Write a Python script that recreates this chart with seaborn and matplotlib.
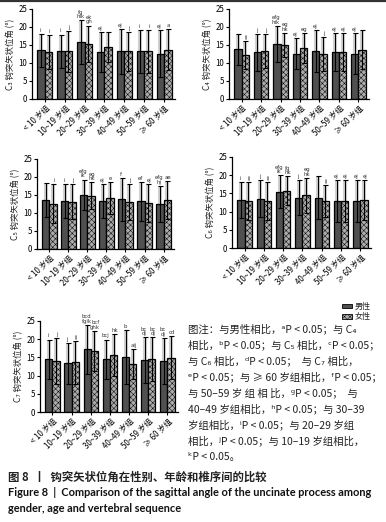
import numpy as np
import pandas as pd
import matplotlib
matplotlib.use('Agg')
import matplotlib.pyplot as plt
import seaborn as sns
from matplotlib.patches import Patch
from matplotlib.lines import Line2D

sns.set_theme(style='ticks')
plt.rcParams['font.family'] = ['Noto Sans CJK SC', 'DejaVu Sans']
plt.rcParams['hatch.linewidth'] = 0.35
plt.rcParams['axes.unicode_minus'] = False

# ---------------- data ----------------
groups = ['< 10 岁组', '10~19 岁组', '20~29 岁组', '30~39 岁组',
          '40~49 岁组', '50~59 岁组', '≥ 60 岁组']
sexes = ['男性', '女性']
vertebrae = ['C₃', 'C₄', 'C₅', 'C₆', 'C₇']

c3_male_mean = [13.5, 13.2, 15.8, 13.0, 13.2, 13.2, 12.6]
c3_female_mean = [13.0, 13.2, 15.4, 14.4, 13.2, 13.2, 13.7]
c3_male_sd = [4.6, 4.7, 6.1, 5.6, 6.2, 5.9, 6.5]
c3_female_sd = [4.8, 5.6, 5.0, 4.2, 5.3, 5.9, 5.7]
c3_male_sig = ['i', 'i', 'fg\nhik', 'ej', 'ej', 'i', 'ej']
c3_female_sig = ['i', 'j', 'ek\ngh', '', 'j', 'i', 'a']

c4_male_mean = [13.8, 13.0, 15.3, 12.6, 13.4, 13.0, 12.6]
c4_female_mean = [12.3, 13.4, 15.0, 14.2, 12.6, 13.0, 13.7]
c4_male_sd = [4.3, 5.1, 5.0, 4.3, 5.8, 5.3, 5.7]
c4_female_sd = [3.9, 4.7, 3.4, 4.1, 4.7, 5.3, 5.5]
c4_male_sig = ['', 'j', 'efg\nhik', 'ej', 'ej', 'ej', 'ej']
c4_female_sig = ['ij', 'j', 'eg\nhk', 'eg', 'j', 'ej', '']

c5_male_mean = [13.6, 13.3, 15.1, 13.3, 13.8, 13.3, 12.5]
c5_female_mean = [12.6, 13.1, 14.8, 14.2, 13.0, 12.8, 13.6]
c5_male_sd = [4.6, 4.7, 4.2, 4.7, 6.0, 5.4, 5.0]
c5_female_sd = [5.4, 4.9, 3.7, 4.5, 5.0, 5.2, 5.2]
c5_male_sig = ['', 'i', 'efg\nik', 'ej', 'f', 'ef', 'efg\nhj']
c5_female_sig = ['i', 'j', 'eg\nhk', 'e', 'j', 'ej', 'ae']

c6_male_mean = [13.2, 13.5, 15.5, 13.8, 13.8, 12.9, 12.9]
c6_female_mean = [12.9, 13.0, 15.7, 14.5, 12.9, 12.9, 13.2]
c6_male_sd = [5.0, 5.1, 4.5, 4.8, 5.9, 5.7, 5.7]
c6_female_sd = [5.3, 5.2, 4.0, 4.8, 4.4, 5.7, 5.4]
c6_male_sig = ['i', 'j', 'efg\nik', 'j', '', 'ej', 'ej']
c6_female_sig = ['ij', 'ij', 'fg\nhk', 'eg\nhk', 'ij', 'ej', 'ej']

c7_male_mean = [14.5, 13.4, 17.2, 14.5, 15.2, 14.3, 14.0]
c7_female_mean = [14.0, 13.6, 16.8, 15.6, 13.2, 14.5, 14.9]
c7_male_sd = [5.4, 5.6, 6.8, 5.4, 7.4, 6.3, 6.4]
c7_female_sd = [6.2, 5.9, 5.5, 5.7, 4.1, 6.1, 5.9]
c7_male_sig = ['i', 'j', 'bcd\nfgik', 'bcj', 'b', 'bc\ndj', 'bc\ndj']
c7_female_sig = ['j', 'ij', 'bcf\nghk', 'hk', 'aij', 'bc\ndj', 'cd']

note_lines = [
    '图注：与男性相比，ᵃP < 0.05；与 C₄',
    '相比，ᵇP < 0.05；与 C₅ 相比，ᶜP < 0.05；',
    '与 C₆ 相比，ᵈP < 0.05；  与 C₇ 相比，',
    'ᵉP < 0.05；与 ≥ 60 岁组相比，ᶠP < 0.05；',
    '与 50–59 岁 组 相 比，ᵍP < 0.05；  与',
    '40–49 岁组相比，ʰP < 0.05；与 30–39',
    '岁组相比，ⁱP < 0.05；与 20–29 岁组',
    '相比，ʲP < 0.05；与 10–19 岁组相比，',
    'ᵏP < 0.05。',
]
caption_cn = '图 8  丨  钩突矢状位角在性别、年龄和椎序间的比较'
caption_en1 = 'Figure 8  |  Comparison of the sagittal angle of the uncinate process among'
caption_en2 = 'gender, age and vertebral sequence'

panels = [
    (c3_male_mean, c3_female_mean, c3_male_sd, c3_female_sd, c3_male_sig, c3_female_sig),
    (c4_male_mean, c4_female_mean, c4_male_sd, c4_female_sd, c4_male_sig, c4_female_sig),
    (c5_male_mean, c5_female_mean, c5_male_sd, c5_female_sd, c5_male_sig, c5_female_sig),
    (c6_male_mean, c6_female_mean, c6_male_sd, c6_female_sd, c6_male_sig, c6_female_sig),
    (c7_male_mean, c7_female_mean, c7_male_sd, c7_female_sd, c7_male_sig, c7_female_sig),
]

# ---------------- layout ----------------
W, H = 386, 522
fig = plt.figure(figsize=(W / 100, H / 100), dpi=100)
fig.patch.set_facecolor('white')

panel_px = [(32, 175, 9, 99), (229, 369, 9, 99), (37, 174, 159, 249),
            (232, 371, 157, 248), (40, 178, 321, 412)]

male_color = '#505050'
female_color = '#acacac'


def px_axes(l, r, t, b):
    return fig.add_axes([l / W, 1 - b / H, (r - l) / W, (b - t) / H])


for i, (mm, fm, ms, fs, msig, fsig) in enumerate(panels):
    ax = px_axes(*panel_px[i])
    df = pd.DataFrame({
        'group': groups * 2,
        'sex': [sexes[0]] * len(groups) + [sexes[1]] * len(groups),
        'angle': mm + fm,
    })
    sns.barplot(data=df, x='group', y='angle', hue='sex', order=groups,
                hue_order=sexes, palette=[male_color, female_color],
                width=0.75, errorbar=None, edgecolor='black', linewidth=0.9,
                saturation=1, legend=False, ax=ax, zorder=2)
    bar_conts = list(ax.containers)
    for j, cont in enumerate(bar_conts):
        means = mm if j == 0 else fm
        sds = ms if j == 0 else fs
        sigs = msig if j == 0 else fsig
        dx = -0.6 if j == 0 else 0.6
        for k, bar in enumerate(cont.patches):
            if j == 1:
                bar.set_hatch('xxxxxx')
            x = bar.get_x() + bar.get_width() / 2
            m, s = means[k], sds[k]
            ax.plot([x, x], [m, m + s], color='#d2d2d2', lw=3.0, zorder=1,
                    solid_capstyle='butt')
            ax.errorbar(x, m, yerr=s, color='black', lw=0.8, capsize=1.8,
                        capthick=0.8, zorder=3)
            if sigs[k]:
                ax.annotate(sigs[k], (x, m + s), xytext=(dx, 0.8),
                            textcoords='offset points', ha='center',
                            va='bottom', fontsize=3.9, color='#333333',
                            annotation_clip=False, linespacing=0.85,
                            family=['DejaVu Sans'])
    ax.set_ylim(0, 25)
    ax.set_yticks(range(0, 26, 5))
    ax.set_xlim(-0.65, 6.55)
    sns.despine(ax=ax)
    for sp in ('left', 'bottom'):
        ax.spines[sp].set_linewidth(0.9)
        ax.spines[sp].set_color('black')
    ax.tick_params(axis='both', labelsize=5.7, length=2.5, width=0.8, pad=1,
                   colors='black')
    ax.set_xlabel('')
    ax.set_ylabel(f'{vertebrae[i]} 钩突矢状位角 (°)', fontsize=6, labelpad=2,
                  color='#222222')
    for lab in ax.get_xticklabels():
        lab.set_rotation(45)
        lab.set_ha('right')
        lab.set_rotation_mode('anchor')

# legend
handles = [Patch(facecolor=male_color, edgecolor='black', linewidth=0.6),
           Patch(facecolor=female_color, edgecolor='black', linewidth=0.6,
                 hatch='xxxxxx')]
fig.legend(handles, sexes, loc='upper left',
           bbox_to_anchor=(342 / W, 1 - 302 / H), frameon=False, fontsize=5.8,
           handlelength=1.3, handleheight=0.45, labelspacing=0.15,
           handletextpad=0.3, borderaxespad=0, borderpad=0)

# note
for n, line in enumerate(note_lines):
    fig.text(188 / W, 1 - (329 + 16 * n) / H, line, fontsize=7.5,
             va='center', ha='left', color='#222222')

# captions
fig.text(8 / W, 1 - 477 / H, caption_cn, fontsize=8.2, fontweight='bold',
         va='center', ha='left', color='#222222')
fig.text(8 / W, 1 - 492 / H, caption_en1, fontsize=7.9, fontweight='bold',
         va='center', ha='left', color='#111111', family=['Lato', 'DejaVu Sans'])
fig.text(8 / W, 1 - 508 / H, caption_en2, fontsize=7.9, fontweight='bold',
         va='center', ha='left', color='#111111', family=['Lato', 'DejaVu Sans'])

# top rule
fig.add_artist(Line2D([0, 1], [1 - 1 / H, 1 - 1 / H], color='#333333', lw=1.6,
                      transform=fig.transFigure))

fig.savefig('out.png', dpi=100)
